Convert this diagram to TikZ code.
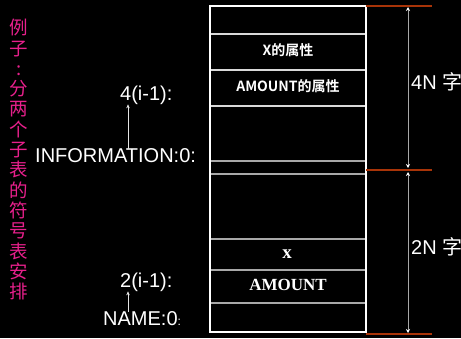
\documentclass[tikz,border=0pt]{standalone}
\usepackage{fontspec}
\setmainfont{Liberation Sans}
\newfontfamily\cjk{Noto Sans CJK SC}
\newfontfamily\cjkb{Noto Sans CJK SC Bold}
\newfontfamily\serifb{Liberation Serif}[BoldFont={Liberation Serif Bold}]
\usetikzlibrary{arrows.meta}
\definecolor{pinktxt}{HTML}{E8208C}
\definecolor{redline}{HTML}{A83408}
\definecolor{greyline}{HTML}{A8A8A8}
\tikzset{
  lbl/.style={text=white, inner sep=0pt, font=\fontsize{20}{22}\selectfont},
  celltxt/.style={text=white, inner sep=0pt},
  inner/.style={draw=greyline, line width=1.2pt},
  innerw/.style={draw=white!85!black, line width=1.2pt},
  redmark/.style={draw=redline, line width=1.6pt},
  dimarrow/.style={draw=greyline, line width=0.8pt, {Stealth[length=4pt,width=4pt,white]}-{Stealth[length=4pt,width=4pt,white]}},
  smallarrow/.style={draw=white!90!black, line width=0.6pt, -{Stealth[length=4pt,width=3.5pt]}}
}
\begin{document}
\begin{tikzpicture}[x=1pt,y=-1pt]
\fill[black] (0,0) rectangle (461,338);
\useasboundingbox (0,0) rectangle (461,338);
% title (vertical)
\node[text=pinktxt, inner sep=0pt, align=center, font=\cjk\fontsize{18.5}{20.3}\selectfont, anchor=north] (title) at (19,19)
 {例\\子\\:\\分\\两\\个\\子\\表\\的\\符\\号\\表\\安\\排};
% table
\draw[innerw] (210,34) -- (366,34);
\draw[innerw] (210,70) -- (366,70);
\draw[innerw] (210,106) -- (366,106);
\draw[inner] (210,161) -- (366,161);
\draw[inner] (210,174) -- (366,174);
\draw[inner] (210,239) -- (366,239);
\draw[inner] (210,270) -- (366,270);
\draw[inner] (210,303) -- (366,303);
\draw[white, line width=1.5pt] (210,6) rectangle (366,332);
\node[celltxt, font=\cjkb\fontsize{14}{16}\selectfont] (xattr) at (288,50) {X的属性};
\node[celltxt, font=\cjkb\fontsize{14}{16}\selectfont] (amattr) at (288,86) {AMOUNT的属性};
\node[celltxt, font=\serifb\bfseries\fontsize{19}{21}\selectfont, anchor=base] (xname) at (287,258) {x};
\node[celltxt, font=\serifb\bfseries\fontsize{17}{19}\selectfont] (amname) at (288,285) {AMOUNT};
% red marks
\coordinate (r1a) at (366,6); \coordinate (r1b) at (432,6);
\coordinate (r2a) at (366,170); \coordinate (r2b) at (432,170);
\coordinate (r3a) at (366,334); \coordinate (r3b) at (432,334);
\draw[redmark] (r1a) -- (r1b);
\draw[redmark] (r2a) -- (r2b);
\draw[redmark] (r3a) -- (r3b);
\coordinate (d1) at (408,7); \coordinate (d2) at (408,168);
\coordinate (d3) at (408,172); \coordinate (d4) at (408,333);
\draw[dimarrow] (d1) -- (d2);
\draw[dimarrow] (d3) -- (d4);
\node[lbl, anchor=base west] (fourN) at (411,89) {4N {\cjk 字}};
\node[lbl, anchor=base west] (twoN) at (411,254) {2N {\cjk 字}};
% left labels
\node[lbl, anchor=base west] (info) at (35,162) {INFORMATION:0:};
\node[lbl, anchor=base west] (four) at (120,100) {4(i-1):};
\node[lbl, anchor=base west] (two) at (120,287) {2(i-1):};
\node[lbl, anchor=base west] (name) at (103,325) {NAME:0{\fontsize{12}{14}\selectfont :}};
\draw[smallarrow] (info.north -| 128,0) ++(0,1) -- (four.south -| 128,0);
\draw[smallarrow] (name.north -| 128,0) ++(0,1) -- (two.south -| 128,0);
\end{tikzpicture}
\end{document}
